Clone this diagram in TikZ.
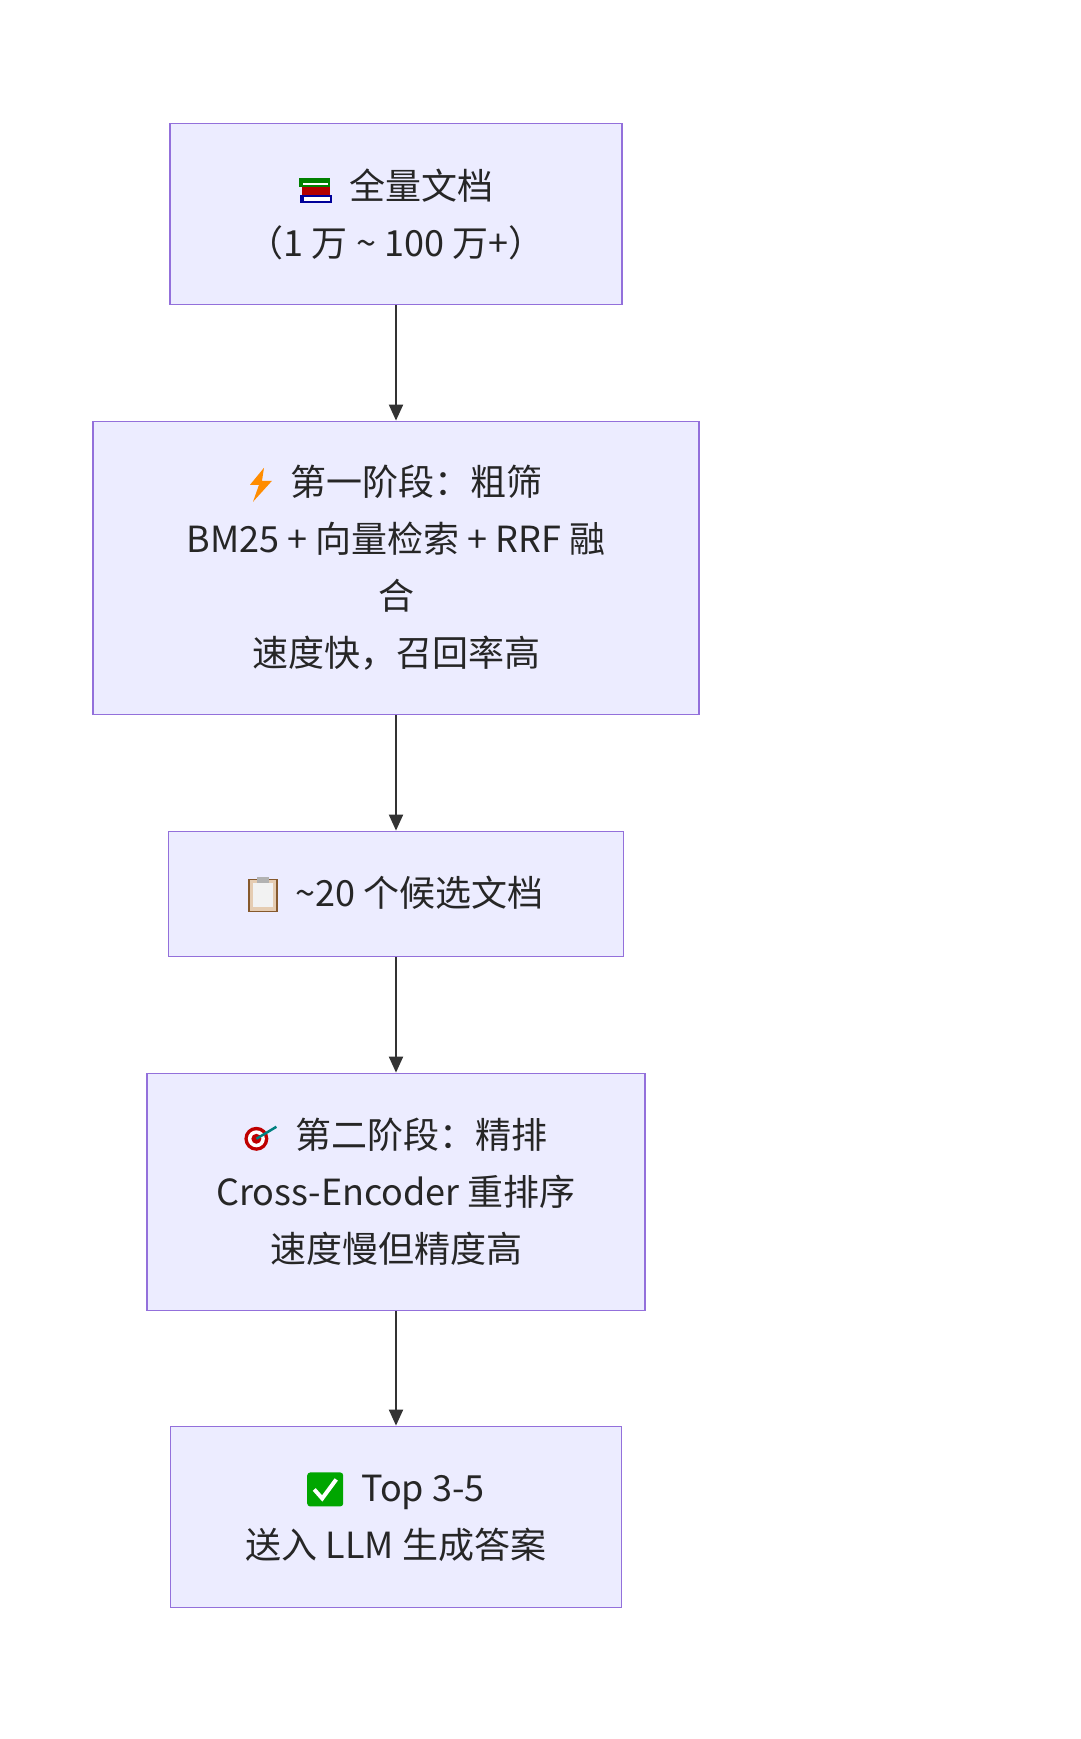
\documentclass[tikz,border=0pt]{standalone}
\usepackage{fontspec}
\setmainfont{Noto Sans CJK SC}
\usetikzlibrary{arrows.meta}
\definecolor{bx}{HTML}{ECECFF}
\definecolor{bd}{HTML}{9370DB}
\definecolor{ln}{HTML}{333333}
\newcommand{\icBooks}{\tikz[baseline=-12pt,x=1pt,y=1pt]{\fill[blue!60!black] (0,-16) rectangle (32,-8);\fill[white] (4,-14) rectangle (30,-10);\fill[red!70!black] (2,-8) rectangle (30,0);\fill[green!50!black] (-1,0) rectangle (30,9);\fill[white] (3,2) rectangle (28,4);}}
\newcommand{\icBolt}{\tikz[baseline=-12pt,x=1pt,y=1pt]{\fill[orange!90!yellow] (16,16)--(2,-1)--(11,-1)--(5,-18)--(24,3)--(14,3)--cycle;}}
\newcommand{\icClip}{\tikz[baseline=-12pt,x=1pt,y=1pt]{\draw[brown!70!black,fill=brown!40,line width=1.5pt] (0,-17) rectangle (28,15);\fill[gray!10] (4,-13) rectangle (24,11);\fill[gray!60] (8,11) rectangle (20,17);}}
\newcommand{\icTarget}{\tikz[baseline=-12pt,x=1pt,y=1pt]{\fill[red!75!black] (10,-2) circle (12);\fill[white] (10,-2) circle (8.5);\fill[red!75!black] (10,-2) circle (5);\draw[teal,line width=2.5pt] (10,-2)--(30,10);}}
\newcommand{\icCheck}{\tikz[baseline=-12pt,x=1pt,y=1pt]{\fill[green!65!black,rounded corners=3pt] (0,-17) rectangle (36,17);\draw[white,line width=4pt] (7,0)--(15,-9)--(29,10);}}
\tikzset{box/.style={draw=bd,fill=bx,line width=1.8pt,inner sep=0pt,align=center,font=\fontsize{36pt}{57pt}\selectfont,text=black!85},
arr/.style={draw=ln,line width=2pt,-{Triangle[length=16pt,width=14pt]}}}
\begin{document}
\begin{tikzpicture}[x=1pt,y=-1pt]
\useasboundingbox[fill=white] (0,0) rectangle (1080,1739);
\node[box,minimum width=452pt,minimum height=181pt] (a) at (396,214) {\icBooks\hspace{18pt}全量文档\\（1 万 \textasciitilde{} 100 万+）};
\node[box,minimum width=606pt,minimum height=293pt] (b) at (396,568) {\icBolt\hspace{18pt}第一阶段：粗筛\\BM25 + 向量检索 + RRF 融\\合\\速度快，召回率高};
\node[box,minimum width=455pt,minimum height=125pt] (c) at (396,894) {\icClip\hspace{18pt}\textasciitilde{}20 个候选文档};
\node[box,minimum width=498pt,minimum height=237pt] (d) at (396,1192) {\icTarget\hspace{18pt}第二阶段：精排\\Cross-Encoder 重排序\\速度慢但精度高};
\node[box,minimum width=451pt,minimum height=181pt] (e) at (396,1517) {\icCheck\hspace{18pt}Top 3-5\\送入 LLM 生成答案};
\draw[arr] (a) -- (b);
\draw[arr] (b) -- (c);
\draw[arr] (c) -- (d);
\draw[arr] (d) -- (e);
\end{tikzpicture}
\end{document}
